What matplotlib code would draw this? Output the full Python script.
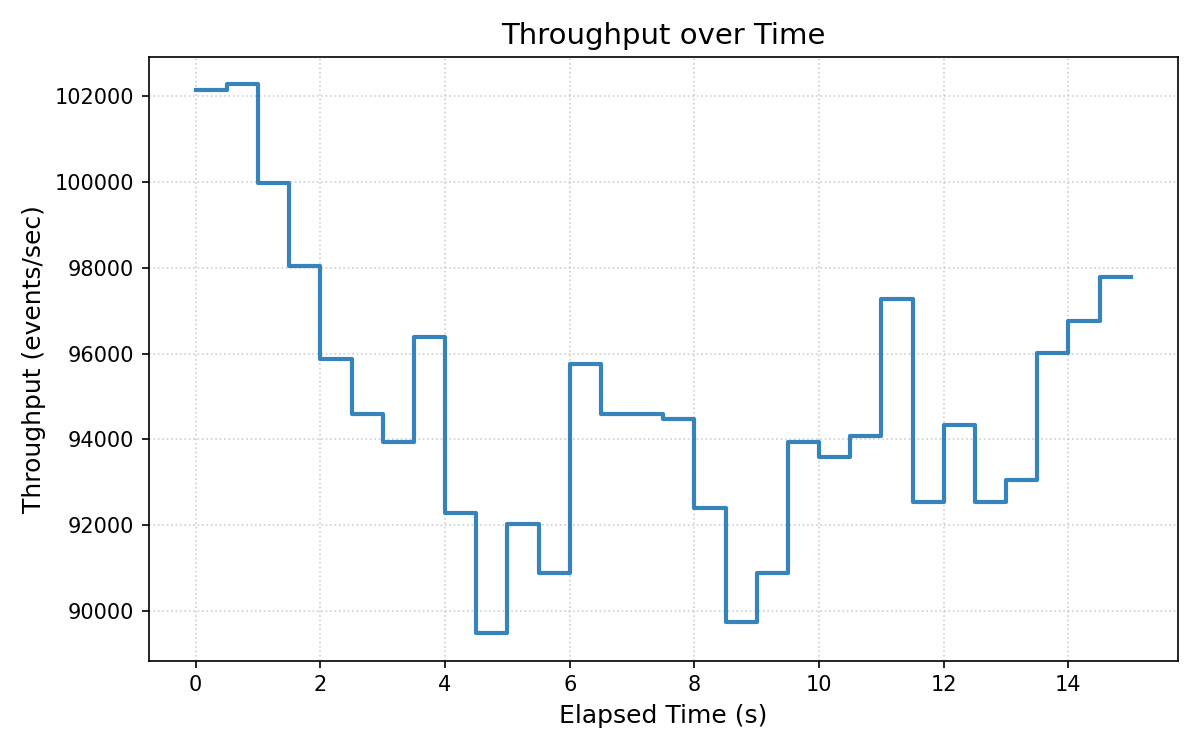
import numpy as np
import matplotlib
matplotlib.use("Agg")
import matplotlib.pyplot as plt

# elapsed time (s), sampled every half second
elapsed = [0.0, 0.5, 1.0, 1.5, 2.0, 2.5, 3.0, 3.5, 4.0, 4.5,
           5.0, 5.5, 6.0, 6.5, 7.0, 7.5, 8.0, 8.5, 9.0, 9.5,
           10.0, 10.5, 11.0, 11.5, 12.0, 12.5, 13.0, 13.5, 14.0, 14.5, 15.0]

# throughput (events/sec) for each interval
throughput = [102160, 102280, 99970, 98050, 95870, 94590, 93950, 96380, 92280, 89480,
              92030, 90890, 95750, 94590, 94590, 94470, 92400, 89740, 90890, 93950,
              93580, 94070, 97270, 92540, 94330, 92540, 93050, 96010, 96750, 97790, 97790]

fig, ax = plt.subplots(figsize=(8, 5), dpi=150)

ax.step(elapsed, throughput, where="post", color="#1f77b4", alpha=0.9, linewidth=2)

ax.set_title("Throughput over Time", fontsize=14)
ax.set_xlabel("Elapsed Time (s)", fontsize=12)
ax.set_ylabel("Throughput (events/sec)", fontsize=12)
ax.grid(True, linestyle=":", alpha=0.6)

plt.tight_layout()
plt.savefig("out.png", dpi=150)
